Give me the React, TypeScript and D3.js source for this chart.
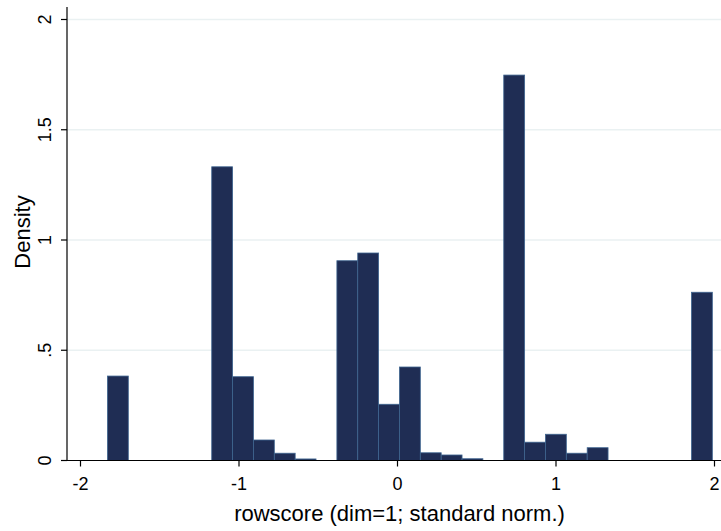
import React from "react";
import * as d3 from "d3";

const binStart = -1.83;
const binWidth = 0.1316;
const densities = [
  0.383, 0, 0, 0, 0, 1.332, 0.38, 0.093, 0.033, 0.007,
  0, 0.906, 0.941, 0.255, 0.424, 0.035, 0.025, 0.008, 0, 1.748,
  0.083, 0.119, 0.033, 0.058, 0, 0, 0, 0, 0.763,
];
const xTicks = [-2, -1, 0, 1, 2];
const yTicks = [0, 0.5, 1, 1.5, 2];
const yTickLabels = ["0", ".5", "1", "1.5", "2"];
const xTitle = "rowscore (dim=1; standard norm.)";
const yTitle = "Density";

export default function App() {
  const W = 721, H = 531;
  const x = d3.scaleLinear().domain([-2, 2]).range([80.5, 714.5]);
  const y = d3.scaleLinear().domain([0, 2]).range([460.5, 19.5]);
  const axisX = 67;
  const font = "Arial, 'Liberation Sans', sans-serif";
  const bins = densities.map((d, i) => ({ x0: binStart + i * binWidth, x1: binStart + (i + 1) * binWidth, d }));
  return (
    <svg width={W} height={H} style={{ position: "absolute", left: 0, top: 0, background: "#fff" }}>
      <rect x={0} y={0} width={W} height={H} fill="#fff" />
      {yTicks.slice(1).map((t) => (
        <line key={t} x1={axisX} x2={W} y1={y(t)} y2={y(t)} stroke="#eaf1f2" strokeWidth={1.5} />
      ))}
      {bins.filter((b) => b.d > 0).map((b, i) => (
        <rect
          key={i}
          x={x(b.x0)}
          y={y(b.d)}
          width={x(b.x1) - x(b.x0)}
          height={y(0) - y(b.d)}
          fill="#1f2d54"
          stroke="#3f6590"
          strokeWidth={0.8}
        />
      ))}
      <line x1={axisX} x2={axisX} y1={7} y2={y(0)} stroke="#000" strokeWidth={1.2} />
      <line x1={axisX} x2={W} y1={y(0)} y2={y(0)} stroke="#000" strokeWidth={1.2} />
      {yTicks.map((t, i) => (
        <g key={t}>
          <line x1={axisX - 6} x2={axisX} y1={y(t)} y2={y(t)} stroke="#000" strokeWidth={1.2} />
          <text
            transform={`translate(51,${y(t)}) rotate(-90)`}
            textAnchor="middle"
            fontFamily={font}
            fontSize={18}
            fill="#000"
          >
            {yTickLabels[i]}
          </text>
        </g>
      ))}
      {xTicks.map((t) => (
        <g key={t}>
          <line x1={x(t)} x2={x(t)} y1={y(0)} y2={y(0) + 6} stroke="#000" strokeWidth={1.2} />
          <text x={x(t)} y={490} textAnchor="middle" fontFamily={font} fontSize={18} fill="#000">
            {t}
          </text>
        </g>
      ))}
      <text x={399.5} y={521} textAnchor="middle" fontFamily={font} fontSize={22} fill="#000">
        {xTitle}
      </text>
      <text
        transform={`translate(30,232) rotate(-90)`}
        textAnchor="middle"
        fontFamily={font}
        fontSize={22}
        fill="#000"
      >
        {yTitle}
      </text>
    </svg>
  );
}
